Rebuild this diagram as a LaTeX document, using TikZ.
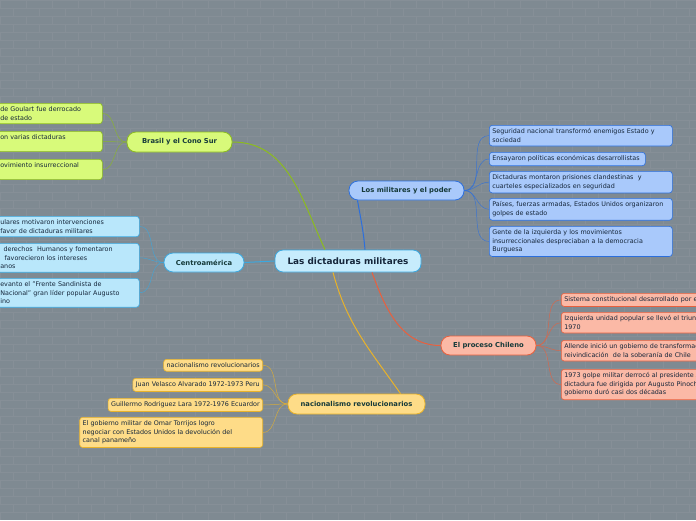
\documentclass[tikz,border=0pt]{standalone}
\usepackage{fontspec}
\setmainfont{DejaVu Sans}
\usetikzlibrary{calc}

\definecolor{wall}{HTML}{7F8A92}
\definecolor{joint}{HTML}{868F97}
\definecolor{ink}{HTML}{15263A}
\definecolor{head}{HTML}{163A3A}
\definecolor{bluefill}{HTML}{A9C9FB}\definecolor{blueline}{HTML}{2C6FDD}
\definecolor{limefill}{HTML}{D8FA7A}\definecolor{limeline}{HTML}{8CBC1E}
\definecolor{cyanfill}{HTML}{B9E7FB}\definecolor{cyanline}{HTML}{3AA8E0}
\definecolor{redfill}{HTML}{FBB9A6}\definecolor{redline}{HTML}{E8603E}
\definecolor{yelfill}{HTML}{FEDC88}\definecolor{yelline}{HTML}{E8B22A}

\tikzset{
  topic/.style={draw=#1line, fill=#1fill, line width=0.8pt, rounded corners=9pt,
    font=\fontsize{6.8}{8}\selectfont\bfseries, text=head, inner sep=2pt},
  leaf/.style={draw=#1line, fill=#1fill, line width=0.6pt, rounded corners=3pt,
    font=\fontsize{6.4}{8.5}\selectfont, text=ink, align=left,
    inner xsep=3pt, inner ysep=3.5pt},
  twig/.style={#1line, line width=0.5pt, opacity=0.8},
  bough/.style={#1line, line width=1pt}
}

\begin{document}
\begin{tikzpicture}[x=1pt, y=-1pt]
  \useasboundingbox (0,0) rectangle (696,520);
  \fill[wall] (0,0) rectangle (696,520);
  \foreach \r in {0,...,64} {
    \draw[joint, line width=0.4pt] (0,\r*8) -- (696,\r*8);
    \foreach \c in {0,...,27}
      \draw[joint, line width=0.4pt] ({\c*26+13*mod(\r,2)},{\r*8}) -- ++(0,8);
  }

  % centre and branches
  \node[draw=cyanline, fill=cyanfill!80!white, line width=0.8pt, rounded corners=8pt,
    minimum width=146pt, minimum height=22pt, text=ink,
    font=\fontsize{8.9}{10}\selectfont\bfseries] (ctr) at (348,261) {Las dictaduras militares};
  \node[topic=blue, minimum width=115pt, minimum height=19pt] (mil) at (406.5,190.5) {Los militares y el poder};
  \node[topic=lime, minimum width=105pt, minimum height=20pt] (bra) at (179.5,142) {Brasil y el Cono Sur};
  \node[topic=cyan, minimum width=80pt, minimum height=19pt] (cen) at (204,262.5) {Centroamérica};
  \node[topic=red, minimum width=95pt, minimum height=19pt] (chi) at (488.5,345.5) {El proceso Chileno};
  \node[topic=yel, minimum width=137pt, minimum height=20pt] (nac) at (356.5,404) {nacionalismo revolucionarios};

  \draw[bough=blue] ([xshift=17pt]ctr.north) to[out=95,in=-80] ([xshift=-49pt]mil.south);
  \draw[bough=lime] ([xshift=-23pt]ctr.north) to[out=115,in=0] (bra.east);
  \draw[bough=cyan] (ctr.west) -- (cen.east);
  \draw[bough=red] ([xshift=24pt]ctr.south) to[out=-70,in=180] (chi.west);
  \draw[bough=yel] ([xshift=-15pt]ctr.south) to[out=-75,in=125] ([xshift=44pt]nac.north);

  % Los militares y el poder
  \node[leaf=blue, anchor=north west, text width=177pt] (m1) at (489,125) {Seguridad nacional transformó enemigos Estado y\\sociedad};
  \node[leaf=blue, anchor=north west, text width=150pt] (m2) at (489,152) {Ensayaron políticas económicas desarrollistas};
  \node[leaf=blue, anchor=north west, text width=177pt] (m3) at (489,171) {Dictaduras montaron prisiones clandestinas \ y\\cuarteles especializados en seguridad};
  \node[leaf=blue, anchor=north west, text width=177pt] (m4) at (489,198) {Países, fuerzas armadas, Estados Unidos organizaron\\golpes de estado};
  \node[leaf=blue, anchor=north west, text width=177pt] (m5) at (489,226) {Gente de la izquierda y los movimientos\\insurreccionales despreciaban a la democracia\\Burguesa};
  \foreach \k in {m1,m2,m3,m4,m5}
    \draw[twig=blue] (mil.east) to[out=0,in=180] (\k.west);

  % Brasil y el Cono Sur
  \node[leaf=lime, anchor=north west, text width=99pt] (b1) at (-3,103) {de Goulart fue derrocado\\ de estado};
  \node[leaf=lime, anchor=north west, text width=99pt] (b2) at (-3,131) {on varias dictaduras\\\mbox{}};
  \node[leaf=lime, anchor=north west, text width=99pt] (b3) at (-3,159) {ovimiento insurreccional\\\mbox{}};
  \foreach \k in {b1,b2,b3}
    \draw[twig=lime] (bra.west) to[out=180,in=0] (\k.east);

  % Centroamérica
  \node[leaf=cyan, anchor=north west, text width=136pt] (c1) at (-3,216) {ulares motivaron intervenciones\\ favor de dictaduras militares};
  \node[leaf=cyan, anchor=north west, text width=136pt] (c2) at (-3,243) {\ \,derechos \ Humanos y fomentaron\\\ \ favorecieron los intereses\\anos};
  \node[leaf=cyan, anchor=north west, text width=136pt] (c3) at (-3,278) {evanto el "Frente Sandinista de\\Nacional" gran líder popular Augusto\\ino};
  \foreach \k in {c1,c2,c3}
    \draw[twig=cyan] (cen.west) to[out=180,in=0] (\k.east);

  % El proceso Chileno
  \node[leaf=red, anchor=north west, text width=250pt] (h1) at (561,293) {Sistema constitucional desarrollado por el pueblo};
  \node[leaf=red, anchor=north west, text width=250pt] (h2) at (561,312) {Izquierda unidad popular se llevó el triunfo en\\1970};
  \node[leaf=red, anchor=north west, text width=250pt] (h3) at (561,340) {Allende inició un gobierno de transformación y\\reivindicación \ de la soberanía de Chile};
  \node[leaf=red, anchor=north west, text width=250pt] (h4) at (561,369) {1973 golpe militar derrocó al presidente Allende,\\dictadura fue dirigida por Augusto Pinochet y su\\gobierno duró casi dos décadas};
  \foreach \k in {h1,h2,h3,h4}
    \draw[twig=red] (chi.east) to[out=0,in=180] (\k.west);

  % nacionalismo revolucionarios
  \node[leaf=yel, anchor=north east] (n1) at (263,359) {nacionalismo revolucionarios};
  \node[leaf=yel, anchor=north east] (n2) at (263,378) {Juan Velasco Alvarado 1972-1973 Peru};
  \node[leaf=yel, anchor=north east] (n3) at (263,398) {Guillermo Rodriguez Lara 1972-1976 Ecuardor};
  \node[leaf=yel, anchor=north east, text width=177pt] (n4) at (263,417) {El gobierno militar de Omar Torrijos logro\\negociar con Estados Unidos la devolución del\\canal panameño};
  \foreach \k in {n1,n2,n3,n4}
    \draw[twig=yel] (nac.west) to[out=180,in=0] (\k.east);
\end{tikzpicture}
\end{document}
